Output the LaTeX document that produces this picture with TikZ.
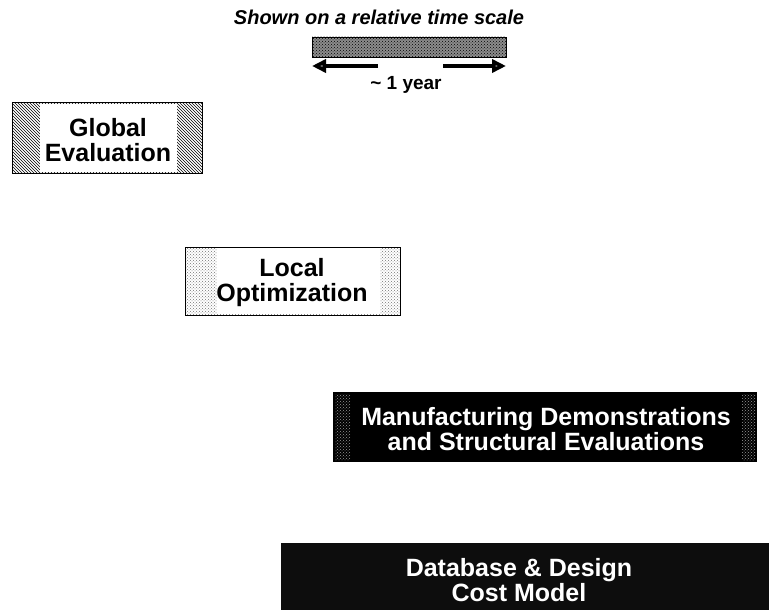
\documentclass[tikz,border=0pt]{standalone}
\usepackage{fontspec}
\setmainfont{Liberation Sans}
\usetikzlibrary{patterns,arrows.meta}
\tikzset{
  lbl/.style={font=\bfseries\fontsize{25}{25}\selectfont,align=center,inner sep=0pt},
  hatchside/.style={pattern=north west lines,pattern color=black},
  dotside/.style={pattern=crosshatch dots,pattern color=black!55},
  scalearrow/.style={line width=3.5pt,-{Triangle[length=14pt,width=13pt,fill=gray]}},
}
\begin{document}
\begin{tikzpicture}[x=1pt,y=-1pt]
   \useasboundingbox (0,0) rectangle (769,610);
   % time scale legend
   \node[font=\bfseries\itshape\fontsize{20}{22}\selectfont,anchor=base] (title) at (379,25)
      {Shown on a relative time scale};
   \fill[black!45] (312,37) rectangle (506,57);
   \fill[pattern=crosshatch dots,pattern color=black] (312,37) rectangle (506,57);
   \draw (312,37) rectangle (506,57);
   \coordinate (yl) at (378,66) ; \coordinate (bl) at (312,66) ;
   \coordinate (yr) at (443,66) ; \coordinate (br) at (506,66) ;
   \draw[scalearrow] (yl) -- (bl) ;
   \draw[scalearrow] (yr) -- (br) ;
   \node[font=\bfseries\fontsize{19}{21}\selectfont,anchor=base] (year) at (406,89)
      {\textasciitilde\ 1 year};
   % global evaluation
   \draw[hatchside,line width=1pt] (12,103) rectangle (202,173) ;
   \fill[white] (40,104) rectangle (177,172) ;
   \node[lbl] (glob) at (108,140) {Global\\Evaluation};
   % local optimization
   \draw[dotside,line width=1pt] (185,247) rectangle (400,315) ;
   \fill[white] (217,248) rectangle (380,314) ;
   \node[lbl] (loc) at (292,283) {Local\\Optimization};
   % manufacturing demonstrations
   \fill[black] (333,392) rectangle (757,462) ;
   \fill[dotside,pattern color=black!40] (335,394) rectangle (350,460) ;
   \fill[dotside,pattern color=black!40] (742,394) rectangle (755,460) ;
   \node[lbl,text=white] (manu) at (546,429) {Manufacturing Demonstrations\\and Structural Evaluations};
   % database
   \fill[black!95] (281,543) rectangle (769,610) ;
   \node[lbl,text=white] (data) at (519,580) {Database \& Design\\Cost Model};
\end{tikzpicture}
\end{document}
